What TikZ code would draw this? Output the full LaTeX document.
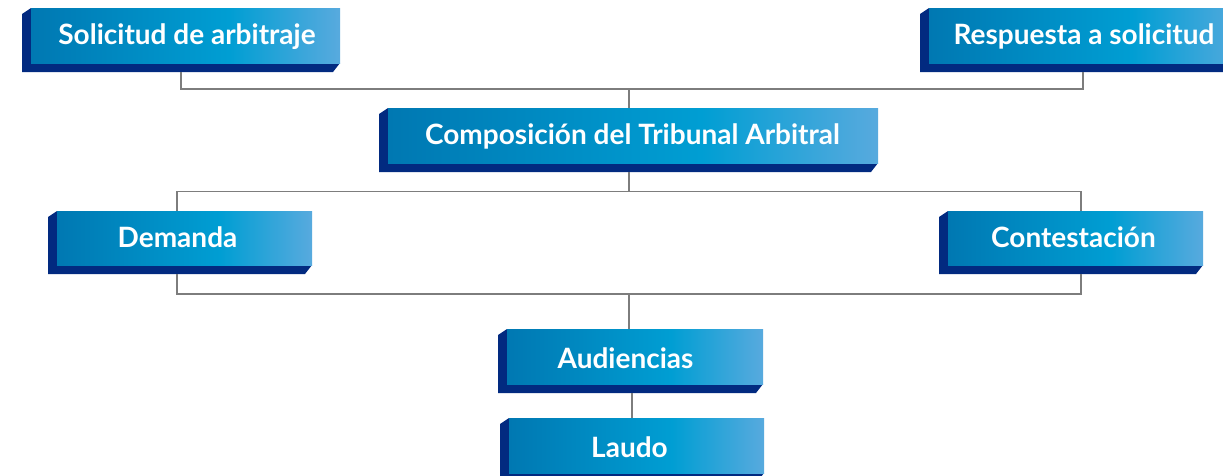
\documentclass[tikz,border=0pt]{standalone}
\usepackage{fontspec}
\setmainfont{Lato}
\definecolor{navy}{RGB}{2,42,128}
\definecolor{fa}{RGB}{0,120,178}
\definecolor{fb}{RGB}{0,158,211}
\definecolor{fc}{RGB}{88,170,222}
\definecolor{conn}{RGB}{125,125,125}
\pgfdeclarehorizontalshading{facegrad}{100bp}{color(0bp)=(fa); color(25bp)=(fa); color(57bp)=(fb); color(75bp)=(fc); color(100bp)=(fc)}
\tikzset{
  bluebox/.style={rectangle, inner sep=0pt, text=white,
    font=\fontsize{28}{32}\selectfont\bfseries,
    text height=10.5pt, text depth=1pt,
    path picture={
      \fill[navy] ([xshift=9pt]path picture bounding box.north west)
        -- ([yshift=-6pt]path picture bounding box.north west)
        -- (path picture bounding box.south west)
        -- ([xshift=-7pt]path picture bounding box.south east)
        -- ([yshift=9pt]path picture bounding box.south east) -- cycle;
      \shade[shading=facegrad] ([xshift=9pt]path picture bounding box.north west)
        rectangle ([yshift=9pt]path picture bounding box.south east);
    }},
  lowtext/.style={text height=16pt},
  connector/.style={draw=conn, line width=1.6pt}
}
\newcommand{\bt}[2][9pt]{\hspace*{#1}#2}
\begin{document}
\begin{tikzpicture}[x=1pt,y=-1pt]
\useasboundingbox (0,0) rectangle (1223,475);
\clip (0,0) rectangle (1223,475);
\fill[white] (0,0) rectangle (1223,475);
% boxes
\node[bluebox, minimum width=318pt, minimum height=64pt] (sol) at (181,40) {\bt[12pt]{Solicitud de arbitraje}};
\node[bluebox, minimum width=326pt, minimum height=64pt] (resp) at (1083,40) {\bt[2pt]{Respuesta a solicitud}};
\node[bluebox, minimum width=499pt, minimum height=64pt] (comp) at (628.5,140) {\bt[8pt]{Composición del Tribunal Arbitral}};
\node[bluebox, minimum width=264pt, minimum height=63pt] (dem) at (180,242.5) {\bt[-5pt]{Demanda}};
\node[bluebox, minimum width=264pt, minimum height=63pt] (cont) at (1071,242.5) {\bt[5pt]{Contestación}};
\node[bluebox, lowtext, minimum width=265pt, minimum height=64pt] (aud) at (630.5,361) {\bt[-10pt]{Audiencias}};
\node[bluebox, lowtext, minimum width=264pt, minimum height=64pt] (laudo) at (632,450) {\bt[-5pt]{Laudo}};
% junctions
\coordinate (h1) at (629,89);
\coordinate (h2) at (629,191.5);
\coordinate (h3) at (629,294);
% connectors
\draw[connector] (sol.south) |- (h1) -| (resp.south);
\draw[connector] (h1) -- (h1 |- comp.north);
\draw[connector] (h2 |- comp.south) -- (h2);
\draw[connector] ([xshift=-3pt]dem.north) |- (h2) -| ([xshift=10pt]cont.north);
\draw[connector] ([xshift=-3pt]dem.south) |- (h3) -| ([xshift=10pt]cont.south);
\draw[connector] (h3) -- (h3 |- aud.north);
\draw[connector] (aud.south -| laudo.north) -- (laudo.north);
\end{tikzpicture}
\end{document}
